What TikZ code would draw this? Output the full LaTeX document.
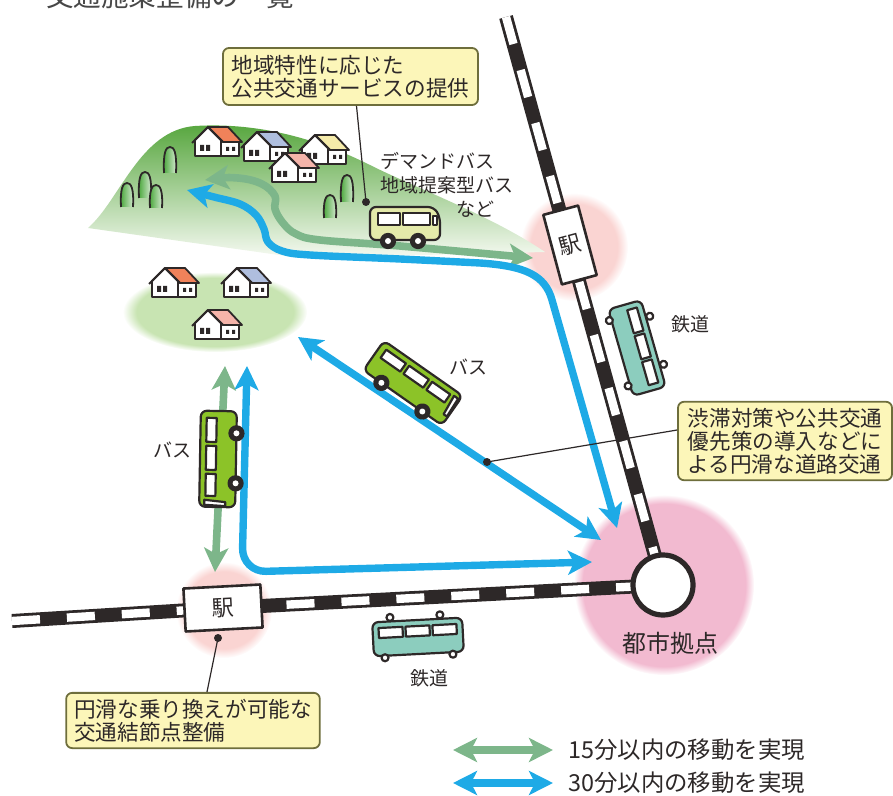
\documentclass[tikz,border=0pt]{standalone}
\usepackage{fontspec}
\setmainfont{Noto Sans CJK JP}
\usetikzlibrary{arrows.meta,fadings}

\definecolor{bluearrow}{RGB}{30,170,230}
\definecolor{greenarrow}{RGB}{125,182,138}
\definecolor{hilltop}{RGB}{85,165,60}
\definecolor{hillmid}{RGB}{170,212,140}
\definecolor{hillbot}{RGB}{246,250,242}
\definecolor{village}{RGB}{200,228,178}
\definecolor{citypink}{RGB}{242,186,208}
\definecolor{stationglow}{RGB}{250,212,210}
\definecolor{calloutfill}{RGB}{252,246,185}
\definecolor{calloutline}{RGB}{110,110,60}
\definecolor{traincol}{RGB}{140,205,190}
\definecolor{busgreen}{RGB}{140,195,40}
\definecolor{minibus}{RGB}{228,234,170}
\definecolor{inkgray}{RGB}{45,40,40}
\definecolor{roofred}{RGB}{240,130,90}
\definecolor{roofblue}{RGB}{175,190,222}
\definecolor{roofyellow}{RGB}{245,235,170}
\definecolor{roofpink}{RGB}{245,180,170}
\definecolor{treegreen}{RGB}{70,165,55}

% house: bottom-left corner x, y and roof colour
\newcommand{\drawhouse}[3]{%
  \begin{scope}[shift={(#1,#2)}]
    \filldraw[houseline, fill=white] (0,0) -- (0,-16) -- (13,-29) -- (26,-16) -- (26,0) -- cycle;
    \filldraw[houseline, fill=white] (26,0) -- (44,0) -- (44,-16) -- (26,-16) -- cycle;
    \filldraw[houseline, fill=#3] (13,-29) -- (33,-29) -- (47,-14) -- (28,-14) -- cycle;
    \draw[houseline] (-3,-13) -- (13,-29) -- (28,-14);
    \fill[inkgray] (5,-11) rectangle (9,-5) (11,-11) rectangle (15,-5);
    \fill[inkgray] (31,-9) rectangle (34,-5) (37,-9) rectangle (40,-5);
  \end{scope}}

% tree: centre x, top y, bottom y
\newcommand{\drawtree}[3]{%
  \shadedraw[houseline, left color=treegreen, right color=treegreen!20!white]
    (#1-6,#3) .. controls (#1-7,#2+5) and (#1-4,#2) .. (#1,#2)
    .. controls (#1+4,#2) and (#1+7,#2+5) .. (#1+6,#3);}

% train, side view: centre x, centre y, angle
\newcommand{\drawtrain}[3]{%
  \begin{scope}[shift={(#1,#2)}, rotate=#3]
    \filldraw[vehline, fill=white] (-27,-21) circle[radius=3.5] (23,-21) circle[radius=3.5];
    \filldraw[vehline, fill=traincol, rounded corners=3pt] (-45,-17) rectangle (45,17);
    \filldraw[vehline, fill=white] (-39,-11) rectangle (-15,-1) (-12,-11) rectangle (12,-1) (15,-11) rectangle (39,-1);
    \filldraw[vehline, fill=white] (-34,19) circle[radius=3.5] (34,19) circle[radius=3.5];
  \end{scope}}

% large bus, side view, facing +x; argument: placement
\newcommand{\drawbus}[1]{%
  \begin{scope}[#1]
    \filldraw[vehline, fill=busgreen, rounded corners=3pt] (-48,-18) rectangle (48,18);
    \filldraw[vehline, fill=white] (-41,-12) rectangle (-17,-2) (-13,-12) rectangle (11,-2) (15,-12) rectangle (37,-2);
    \filldraw[vehline, fill=white] (41,-13) -- (46,-13) -- (47,8) -- (43,8) -- cycle;
    \filldraw[vehline, fill=inkgray] (-26,18) circle[radius=7] (24,18) circle[radius=7];
    \fill[white] (-26,18) circle[radius=3] (24,18) circle[radius=3];
  \end{scope}}

\begin{document}
\begin{tikzpicture}[
    x=0.5pt, y=-0.5pt,
    line join=round,
    houseline/.style={draw=inkgray, line width=0.9pt},
    vehline/.style={draw=inkgray, line width=1.1pt},
    railbase/.style={draw=inkgray, line width=7pt},
    railtie/.style={draw=white, line width=4.2pt, dash pattern=on 14pt off 13.5pt},
    route15/.style={draw=greenarrow, line width=3.8pt,
      arrows={Stealth[length=12pt,width=12pt,inset=3pt]-Stealth[length=12pt,width=12pt,inset=3pt]}},
    route30/.style={draw=bluearrow, line width=3.7pt,
      arrows={Stealth[length=12pt,width=12pt,inset=3pt]-Stealth[length=12pt,width=12pt,inset=3pt]}},
    callout/.style={draw=calloutline, fill=calloutfill, line width=0.9pt, rounded corners=3pt,
      align=left, text=inkgray, font=\fontsize{10.8}{11.6}\selectfont, inner xsep=4pt, inner ysep=3pt},
    leader/.style={draw=inkgray, line width=0.6pt},
    lbl/.style={text=inkgray, font=\fontsize{9.5}{12}\selectfont, inner sep=0pt},
    station/.style={draw=inkgray, fill=white, line width=1.3pt, font=\fontsize{11}{11}\selectfont, text=inkgray, inner sep=0pt},
    citynode/.style={circle, draw=inkgray, fill=white, line width=2.6pt, minimum size=30pt, inner sep=0pt},
    legendtext/.style={text=inkgray, font=\fontsize{11.7}{12}\selectfont, inner sep=0pt},
  ]
  \useasboundingbox (0,0) rectangle (893,796);

  % heading, cut by the top edge
  \begin{scope}
    \clip (0,0) rectangle (893,796);
    \node[anchor=base west, text=black!72, font=\fontsize{13.8}{14}\selectfont, inner sep=0pt] (heading) at (18,7) {・交通施策整備の一覧};
  \end{scope}

  % key points
  \coordinate (cityc) at (663,585);
  \coordinate (stNc) at (570,245);
  \coordinate (stWc) at (223,608);
  \coordinate (railN) at (506,17);
  \coordinate (railW) at (12,621);

  % soft glows around the hubs
  \fill[citypink, path fading=circle with fuzzy edge 10 percent] (664,585) circle[radius=90];
  \fill[stationglow, path fading=circle with fuzzy edge 20 percent] (574,247) circle[radius=54];
  \fill[stationglow, path fading=circle with fuzzy edge 20 percent] (224,610) circle[radius=48];

  % hill settlement
  \shade[top color=hilltop, middle color=hillmid, bottom color=hillbot]
    (88,228) .. controls (120,200) and (140,130) .. (195,126)
    .. controls (260,122) and (320,140) .. (370,165)
    .. controls (420,190) and (490,215) .. (545,252) -- (300,258) -- cycle;
  \drawtree{170}{147}{173}
  \drawtree{127}{183}{207}
  \drawtree{145}{172}{198}
  \drawtree{156}{185}{208}
  \drawtree{347}{175}{202}
  \drawtree{330}{195}{218}
  \drawhouse{195}{156}{roofred}
  \drawhouse{244}{161}{roofblue}
  \drawhouse{302}{164}{roofyellow}
  \drawhouse{272}{182}{roofpink}

  % village settlement
  \fill[village, path fading=circle with fuzzy edge 15 percent] (215,312) ellipse[x radius=92, y radius=40];
  \drawhouse{152}{297}{roofred}
  \drawhouse{224}{297}{roofblue}
  \drawhouse{195}{339}{roofpink}

  % travel links
  \coordinate (mtnG) at (205,180);
  \coordinate (stnG) at (533,258);
  \coordinate (mtnB) at (187,190);
  \coordinate (cityB1) at (617,528);
  \coordinate (vilB) at (298,337);
  \coordinate (cityB2) at (601,540);
  \coordinate (vilB2) at (247,366);
  \coordinate (cityB3) at (592,562);
  \coordinate (vilG) at (225,366);
  \coordinate (stnG2) at (215,572);

  \draw[route15] plot[smooth, tension=0.6] coordinates {(mtnG) (238,178) (262,184) (275,196) (275,209) (283,223) (296,234) (320,240) (400,246) (stnG)};
  \draw[route30] plot[smooth, tension=0.6] coordinates {(mtnB) (214,197) (240,204) (256,215) (264,229) (268,242) (282,251) (310,255) (400,259) (480,263)}
    .. controls (525,266) and (545,275) .. (552,300) -- (cityB1);
  \draw[route30] (vilB) -- (cityB2);
  \draw[route30, rounded corners=12pt] (vilB2) -- (242,572) -- (cityB3);
  \draw[route15] (vilG) -- (stnG2);

  % railway lines
  \draw[railbase] (railN) -- (cityc);
  \draw[railtie] (railN) -- (cityc);
  \draw[railbase] (railW) -- (stWc) -- (cityc);
  \draw[railtie] (railW) -- (stWc) -- (cityc);

  \node[station, rotate=15, minimum width=18pt, minimum height=36pt] (stN) at (stNc) {駅};
  \node[station, rotate=3, minimum width=38.5pt, minimum height=21.5pt] (stW) at (stWc) {駅};
  \node[citynode] (city) at (cityc) {};
  \node[lbl, font=\fontsize{12}{12}\selectfont] (cityname) at (670,643) {都市拠点};

  % vehicles
  \drawtrain{637}{348}{-74}
  \drawtrain{418}{637}{3}
  \drawbus{shift={(413,383)}, rotate=-35}
  \drawbus{shift={(218,459)}, rotate=-91, yscale=-1}
  \begin{scope}[shift={(405,224)}]
    \filldraw[vehline, fill=minibus, rounded corners=3pt] (-35,16) -- (-35,-17) -- (29,-17) -- (35,-7) -- (35,16) -- cycle;
    \filldraw[vehline, fill=white] (-27,-11) rectangle (-5,1) (-2,-11) rectangle (25,1);
    \filldraw[vehline, fill=white] (28,-8) rectangle (32,1);
    \filldraw[vehline, fill=inkgray] (-17,17) circle[radius=7] (13,17) circle[radius=7];
    \fill[white] (-17,17) circle[radius=3] (13,17) circle[radius=3];
  \end{scope}

  % vehicle labels
  \node[lbl, anchor=west, align=left] (demand) at (380,185) {デマンドバス\\地域提案型バス\\\hspace*{4em}など};
  \node[lbl] (busA) at (468,367) {バス};
  \node[lbl] (busB) at (172,450) {バス};
  \node[lbl] (railA) at (690,324) {鉄道};
  \node[lbl] (railB) at (429,678) {鉄道};

  % explanatory notes
  \node[callout, minimum width=127.5pt, minimum height=28.5pt] (noteA) at (350.5,76.5) {地域特性に応じた\\公共交通サービスの提供};
  \node[callout, minimum width=107pt, minimum height=39pt] (noteB) at (785,441) {渋滞対策や公共交通\\優先策の導入などに\\よる円滑な道路交通};
  \node[callout, minimum width=125pt, minimum height=27.5pt] (noteC) at (193,720.5) {円滑な乗り換えが可能な\\交通結節点整備};

  \coordinate (dotA) at (366,202);
  \coordinate (dotB) at (487,462);
  \coordinate (dotC) at (218,638);
  \draw[leader] ([xshift=3pt]noteA.south) -- (dotA);
  \draw[leader] ([yshift=5.5pt]noteB.west) -- (dotB);
  \draw[leader] ([xshift=7pt]noteC.north) -- (dotC);
  \fill[inkgray] (dotA) circle[radius=4] (dotB) circle[radius=4] (dotC) circle[radius=4];

  % legend
  \coordinate (key15a) at (453,750);
  \coordinate (key15b) at (553,750);
  \coordinate (key30a) at (453,783);
  \coordinate (key30b) at (553,783);
  \draw[route15] (key15a) -- (key15b);
  \draw[route30] (key30a) -- (key30b);
  \node[legendtext, anchor=west] (key15t) at (568,750) {15分以内の移動を実現};
  \node[legendtext, anchor=west] (key30t) at (568,783) {30分以内の移動を実現};
\end{tikzpicture}
\end{document}
